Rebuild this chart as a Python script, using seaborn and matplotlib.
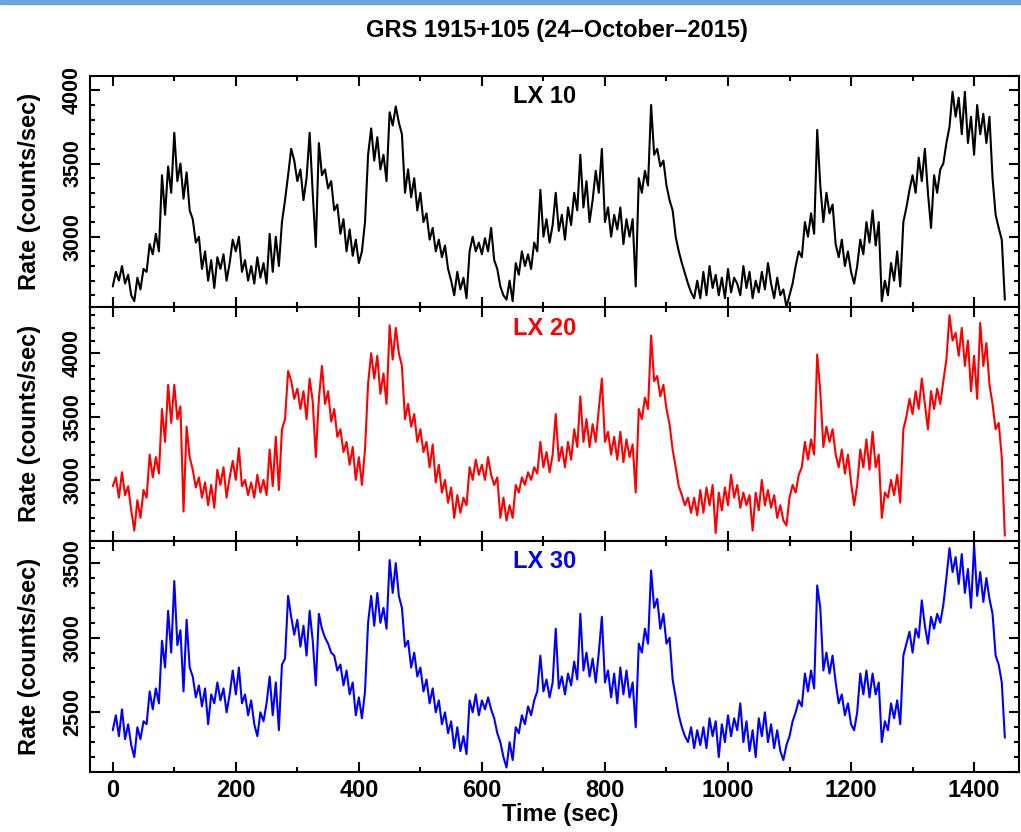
import numpy as np
import pandas as pd
import matplotlib
matplotlib.use("Agg")
import matplotlib.pyplot as plt
from matplotlib.patches import Rectangle
from matplotlib.ticker import MultipleLocator
import seaborn as sns

# Light curve of GRS 1915+105, 5-s bins, three energy bands
time_step = 5
lx10 = [
    2660, 2760, 2700, 2800, 2680, 2740, 2600, 2560, 2720, 2640, 2780, 2760,
    2950, 2880, 3020, 2900, 3420, 3150, 3480, 3300, 3710, 3380, 3500, 3260,
    3440, 3180, 3120, 2960, 3000, 2780, 2900, 2700, 2840, 2650, 2860, 2780,
    2880, 2700, 2820, 2980, 2900, 3000, 2760, 2840, 2700, 2800, 2680, 2860,
    2720, 2820, 2680, 3020, 2760, 3000, 2800, 3100, 3250, 3420, 3600, 3520,
    3380, 3460, 3250, 3400, 3710, 3300, 2930, 3640, 3420, 3460, 3330, 3380,
    3180, 3220, 3020, 3120, 2900, 3050, 2870, 2980, 2820, 2900, 3100, 3560,
    3740, 3520, 3680, 3460, 3560, 3380, 3850, 3760, 3890, 3780, 3700, 3300,
    3460, 3270, 3400, 3180, 3300, 3100, 3160, 2980, 3060, 2900, 2980, 2860,
    2940, 2780, 2700, 2600, 2760, 2640, 2720, 2580, 2900, 3000, 2900, 2960,
    2880, 2990, 2900, 3060, 2840, 2780, 2660, 2600, 2570, 2700, 2560, 2820,
    2740, 2900, 2800, 2880, 2780, 2960, 2900, 3320, 3000, 3120, 2960, 3080,
    3300, 3040, 3150, 2980, 3200, 3080, 3300, 3180, 3560, 3200, 3380, 3100,
    3250, 3450, 3300, 3600, 3100, 3200, 3000, 3150, 3050, 3200, 2950, 3120,
    3000, 3120, 2660, 3400, 3300, 3450, 3350, 3900, 3560, 3600, 3480, 3520,
    3350, 3250, 3180, 3000, 2900, 2820, 2750, 2680, 2620, 2580, 2700, 2580,
    2760, 2600, 2800, 2650, 2740, 2600, 2720, 2580, 2780, 2620, 2720, 2680,
    2600, 2800, 2650, 2760, 2580, 2700, 2620, 2760, 2640, 2820, 2680, 2580,
    2720, 2600, 2640, 2520, 2600, 2680, 2800, 2900, 2860, 3100, 3000, 3160,
    3020, 3730, 3350, 3100, 3300, 3160, 3220, 2950, 2860, 2980, 2800, 2900,
    2760, 2680, 2800, 2980, 2880, 3100, 2960, 3180, 2940, 3100, 2560, 2700,
    2600, 2820, 2700, 2900, 2660, 3100, 3200, 3320, 3420, 3300, 3540, 3380,
    3600, 3300, 3060, 3420, 3300, 3460, 3500, 3640, 3750, 3990, 3820, 3950,
    3700, 3990, 3640, 3820, 3560, 3900, 3700, 3840, 3640, 3820, 3400, 3150,
    3060, 2980, 2570,
]
lx20 = [
    2950, 3020, 2860, 3060, 2880, 2950, 2760, 2600, 2840, 2700, 2920, 2860,
    3200, 3020, 3180, 3050, 3560, 3300, 3750, 3450, 3750, 3480, 3580, 2750,
    3420, 3180, 3080, 2940, 3020, 2860, 2980, 2800, 2960, 2780, 3080, 2960,
    3100, 2860, 3020, 3150, 3000, 3250, 2950, 3000, 2880, 2980, 2860, 3040,
    2900, 3000, 2880, 3240, 2950, 3340, 2920, 3400, 3480, 3860, 3780, 3640,
    3720, 3560, 3700, 3480, 3800, 3620, 3180, 3640, 3900, 3600, 3700, 3460,
    3560, 3340, 3400, 3220, 3300, 3120, 3260, 3000, 3180, 2960, 3240, 3760,
    4000, 3800, 3980, 3680, 3840, 3600, 4220, 3950, 4200, 4000, 3900, 3480,
    3600, 3420, 3520, 3300, 3400, 3220, 3300, 3100, 3280, 2980, 3120, 2900,
    3000, 2820, 2940, 2700, 2880, 2740, 2860, 2800, 3100, 3000, 3160, 3040,
    3120, 3000, 3180, 3040, 2960, 3020, 2700, 2860, 2680, 2800, 2700, 2960,
    2900, 3020, 2960, 3060, 3000, 3100, 3050, 3300, 3100, 3220, 3060, 3200,
    3520, 3150, 3260, 3100, 3300, 3160, 3400, 3260, 3660, 3300, 3480, 3260,
    3440, 3300, 3560, 3800, 3300, 3380, 3200, 3340, 3160, 3380, 3140, 3320,
    3180, 3280, 2900, 3560, 3480, 3650, 3560, 4140, 3780, 3820, 3660, 3750,
    3560, 3440, 3240, 3100, 2950, 2880, 2800, 2860, 2740, 2860, 2720, 2920,
    2740, 2940, 2800, 2960, 2580, 2900, 2760, 2940, 2800, 3040, 2860, 2960,
    2780, 2900, 2800, 2880, 2600, 2900, 2760, 3000, 2800, 2920, 2780, 2880,
    2700, 2800, 2680, 2640, 2860, 2960, 2900, 3040, 3100, 3300, 3160, 3320,
    3200, 3990, 3700, 3260, 3420, 3300, 3400, 3200, 3100, 3240, 3050, 3200,
    2980, 2800, 2960, 3240, 3100, 3320, 3080, 3380, 3100, 3200, 2700, 2900,
    2860, 3000, 2880, 3040, 2820, 3400, 3500, 3640, 3520, 3700, 3560, 3800,
    3600, 3400, 3700, 3560, 3720, 3600, 3780, 3950, 4300, 4100, 4160, 3980,
    4200, 3900, 4100, 3700, 3980, 3640, 4240, 3900, 4080, 3750, 3600, 3400,
    3450, 3180, 2560,
]
lx30 = [
    2380, 2480, 2340, 2520, 2320, 2420, 2280, 2200, 2400, 2320, 2440, 2420,
    2640, 2520, 2660, 2560, 2980, 2800, 3180, 2900, 3380, 2950, 3050, 2640,
    3120, 2800, 2740, 2600, 2680, 2540, 2660, 2420, 2620, 2560, 2700, 2580,
    2660, 2500, 2620, 2780, 2620, 2800, 2560, 2620, 2480, 2580, 2420, 2340,
    2500, 2440, 2560, 2740, 2480, 2700, 2380, 2820, 2860, 3280, 3140, 3020,
    3120, 2940, 3080, 2880, 3180, 2980, 2680, 3160, 3060, 3000, 2960, 2900,
    2880, 2780, 2820, 2680, 2780, 2620, 2700, 2480, 2600, 2460, 2640, 3100,
    3280, 3080, 3300, 3100, 3200, 3060, 3520, 3300, 3500, 3280, 3200, 2940,
    2980, 2800, 2900, 2740, 2800, 2640, 2720, 2560, 2660, 2500, 2580, 2420,
    2500, 2360, 2440, 2260, 2400, 2240, 2340, 2220, 2580, 2500, 2620, 2480,
    2580, 2520, 2600, 2520, 2460, 2360, 2300, 2200, 2130, 2300, 2180, 2400,
    2360, 2480, 2420, 2540, 2480, 2580, 2640, 2880, 2640, 2720, 2600, 2700,
    3060, 2660, 2740, 2620, 2760, 2680, 2840, 2720, 3160, 2780, 2900, 2740,
    2860, 2700, 2900, 3140, 2700, 2780, 2600, 2760, 2560, 2800, 2620, 2780,
    2600, 2700, 2400, 2960, 2900, 3060, 2960, 3450, 3200, 3260, 3060, 3160,
    2960, 3000, 2720, 2600, 2480, 2400, 2340, 2300, 2400, 2260, 2380, 2280,
    2400, 2260, 2460, 2340, 2440, 2200, 2420, 2300, 2480, 2340, 2460, 2380,
    2560, 2300, 2440, 2240, 2380, 2200, 2460, 2340, 2500, 2300, 2420, 2260,
    2380, 2240, 2180, 2280, 2340, 2440, 2500, 2580, 2540, 2760, 2640, 2780,
    2660, 3350, 3200, 2780, 2900, 2760, 2880, 2700, 2560, 2620, 2480, 2560,
    2420, 2380, 2500, 2760, 2620, 2780, 2600, 2760, 2620, 2700, 2300, 2440,
    2380, 2560, 2460, 2580, 2420, 2880, 2960, 3040, 2900, 3060, 3000, 3250,
    3080, 2960, 3140, 3060, 3160, 3100, 3220, 3400, 3600, 3440, 3540, 3360,
    3560, 3300, 3460, 3200, 3620, 3280, 3440, 3240, 3400, 3260, 3160, 2880,
    2820, 2700, 2330,
]

bands = ["LX 10", "LX 20", "LX 30"]
colors = ["black", "red", "blue"]
ylims = [(2520, 4100), (2520, 4365), (2100, 3650)]
yticks = [[3000, 3500, 4000], [3000, 3500, 4000], [2500, 3000, 3500]]
xticks = [0, 200, 400, 600, 800, 1000, 1200, 1400]

time = np.arange(len(lx10)) * time_step
df = pd.DataFrame({"Time": time, "LX 10": lx10, "LX 20": lx20, "LX 30": lx30})

sns.set_theme(style="ticks")
plt.rcParams["font.family"] = ["Liberation Sans", "DejaVu Sans"]
plt.rcParams.update({
    "font.weight": "bold",
    "axes.labelweight": "bold",
    "text.color": "black",
    "axes.labelcolor": "black",
    "xtick.color": "black",
    "ytick.color": "black",
    "axes.edgecolor": "black",
    "axes.linewidth": 1.5,
})

W, H = 1021, 832
fig = plt.figure(figsize=(W / 100, H / 100), dpi=100)
fig.patch.set_facecolor("white")
fig.patches.append(Rectangle((0, 1 - 4 / H), 1, 4 / H, transform=fig.transFigure,
                             color="#6fa3dc", zorder=0))

left, right = 90 / W, 1019 / W
edges = [75.7, 307.0, 540.7, 772.0]
axes = []
for i in range(3):
    y0 = 1 - edges[i + 1] / H
    h = (edges[i + 1] - edges[i]) / H
    ax = fig.add_axes([left, y0, right - left, h], sharex=axes[0] if axes else None)
    axes.append(ax)

for i, ax in enumerate(axes):
    sns.lineplot(data=df, x="Time", y=bands[i], ax=ax, color=colors[i],
                 linewidth=1.5, estimator=None)
    ax.set_xlim(-37, 1473)
    ax.set_ylim(*ylims[i])
    ax.set_yticks(yticks[i], [str(v) for v in yticks[i]], rotation=90,
                  va="center", fontsize=15.5, fontweight="bold")
    ax.yaxis.set_minor_locator(MultipleLocator(100))
    ax.xaxis.set_minor_locator(MultipleLocator(100))
    ax.set_xticks(xticks)
    ax.tick_params(which="both", direction="in", top=True, right=True,
                   width=1.5, colors="black")
    ax.tick_params(which="major", length=7)
    ax.tick_params(which="minor", length=3.5)
    ax.tick_params(axis="y", pad=5)
    ax.set_ylabel("Rate (counts/sec)", fontsize=17, labelpad=15,
                  fontweight="bold")
    ax.set_xlabel("")
    for s in ax.spines.values():
        s.set_linewidth(1.5)
        s.set_color("black")
    ax.text(0.455, 0.908, bands[i], transform=ax.transAxes, color=colors[i],
            fontsize=17, fontweight="bold", ha="left", va="center")
    if i < 2:
        ax.tick_params(axis="x", labelbottom=False)
    else:
        ax.tick_params(axis="x", labelsize=17, pad=5)

fig.text(557 / W, 1 - 30 / H, "GRS 1915+105 (24\u2013October\u20132015)",
         ha="center", va="center", fontsize=17, fontweight="bold")
fig.text(560 / W, 1 - 815 / H, "Time (sec)", ha="center", va="center",
         fontsize=17, fontweight="bold")

fig.savefig("out.png", dpi=100, facecolor="white")
